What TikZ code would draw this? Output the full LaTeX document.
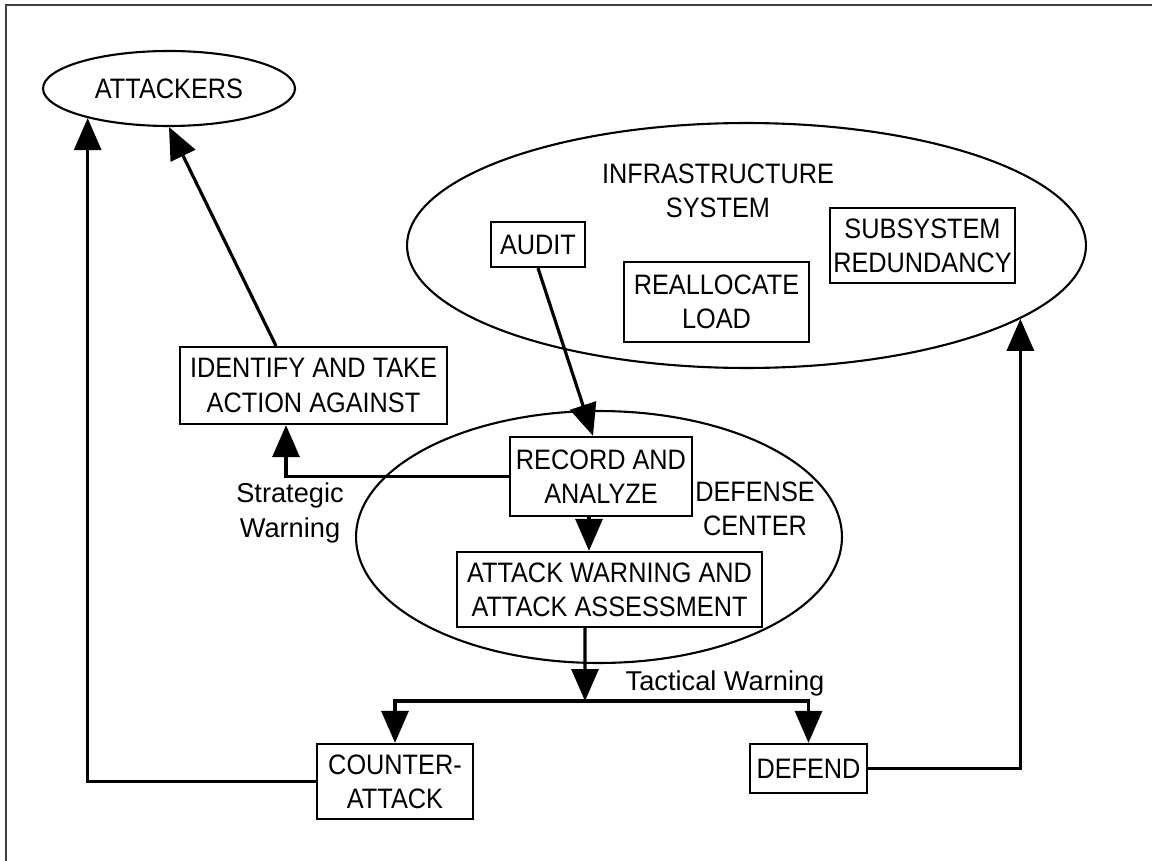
\documentclass[tikz,border=0pt]{standalone}
\usepackage{fontspec}
\setmainfont{Liberation Sans}[FakeStretch=0.9]
\newfontfamily\warnfont{Liberation Sans}
\usetikzlibrary{arrows.meta,shapes.geometric,calc}

\begin{document}
\begin{tikzpicture}[x=0.02cm,y=-0.02cm,>={Triangle[length=0.64cm,width=0.54cm]}]
\tikzstyle{procbox}=[draw,line width=1.3pt,inner sep=0pt,align=center,font=\fontsize{16}{19.5}\selectfont]
\tikzstyle{regionell}=[draw,ellipse,line width=1.2pt,inner sep=0pt,font=\fontsize{16}{19.5}\selectfont]
\tikzstyle{lbl}=[align=center,inner sep=0pt,font=\fontsize{16}{19.5}\selectfont]
\tikzstyle{warnlbl}=[align=center,inner sep=0pt,font=\warnfont\fontsize{15.5}{19.5}\selectfont]
\tikzstyle{conn}=[line width=1.8pt]
\useasboundingbox (0,0) rectangle (1152,861);
\draw[line width=1.2pt,black!75] (6,861) -- (6,5) -- (1152,5);
% regions
\node[regionell,minimum width=5.04cm,minimum height=1.5cm] (attackers) at (169,88.5) {ATTACKERS};
\node[regionell,minimum width=13.58cm,minimum height=4.9cm] (infra) at (746.5,245.5) {};
\node[regionell,minimum width=9.72cm,minimum height=5.04cm] (center) at (599,537) {};
\node[lbl] (infralbl) at (718,191) {INFRASTRUCTURE\\SYSTEM};
\node[lbl] (centerlbl) at (755,508.5) {DEFENSE\\CENTER};
% boxes
\node[procbox,minimum width=1.88cm,minimum height=0.9cm] (audit) at (538,244.5) {AUDIT};
\node[procbox,minimum width=3.7cm,minimum height=1.6cm] (realloc) at (716.5,302) {REALLOCATE\\LOAD};
\node[procbox,minimum width=3.7cm,minimum height=1.5cm] (redund) at (922.5,245.5) {SUBSYSTEM\\REDUNDANCY};
\node[procbox,minimum width=5.34cm,minimum height=1.54cm] (identify) at (313.5,385.5) {IDENTIFY AND TAKE\\ACTION AGAINST};
\node[procbox,minimum width=3.64cm,minimum height=1.58cm] (record) at (601,476.5) {RECORD AND\\ANALYZE};
\node[procbox,minimum width=6.1cm,minimum height=1.5cm] (warning) at (609.5,589.5) {ATTACK WARNING AND\\ATTACK ASSESSMENT};
\node[procbox,minimum width=3.12cm,minimum height=1.5cm] (counter) at (395,781.5) {COUNTER-\\ATTACK};
\node[procbox,minimum width=2.34cm,minimum height=0.98cm] (defend) at (808.5,768.5) {DEFEND};
% labels
\node[warnlbl] (strat) at (290,513) {Strategic\\Warning};
\node[warnlbl] (tact) at (725,683) {Tactical Warning};
\coordinate (split) at (585,701);
% connectors
\draw[conn,->] (counter.west) -| (attackers.200.7);
\draw[conn,->] ([xshift=-0.75cm]identify.north) -- (attackers.south);
\draw[conn,->] (record.west) -| ([xshift=-0.55cm]identify.south);
\draw[conn,->] (audit.south) -- ([xshift=-0.16cm]record.north);
\draw[conn,->] ([xshift=-0.24cm]record.south) -- ([xshift=-0.24cm]record.south |- warning.north);
\draw[conn,->] ([xshift=-0.49cm]warning.south) -- (split);
\draw[conn,->] (split) -| (counter.north);
\draw[conn,->] (split) -| (defend.north);
\draw[conn,->] (defend.east) -| (infra.345);
\end{tikzpicture}
\end{document}
